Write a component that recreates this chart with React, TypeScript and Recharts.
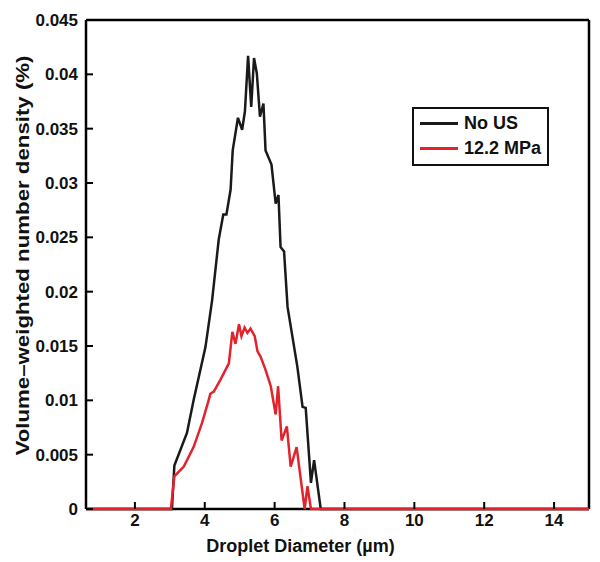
import { LineChart, Line, XAxis, YAxis, CartesianGrid } from "recharts";

const noUsX = [0.6, 3.06, 3.13, 3.49, 3.68, 4.02, 4.21, 4.4, 4.53, 4.62, 4.74, 4.8, 4.95, 5.07, 5.15, 5.24, 5.33, 5.41, 5.49, 5.58, 5.68, 5.74, 5.91, 6.03, 6.11, 6.17, 6.27, 6.37, 6.65, 6.8, 6.89, 7.04, 7.13, 7.32, 15];
const noUsY = [0, 0, 0.004, 0.007, 0.01, 0.0149, 0.0192, 0.0248, 0.0271, 0.0271, 0.0294, 0.033, 0.036, 0.0349, 0.0366, 0.0417, 0.037, 0.0415, 0.0401, 0.0361, 0.0373, 0.033, 0.0317, 0.0281, 0.0289, 0.0241, 0.0237, 0.0186, 0.0131, 0.0094, 0.0093, 0.0024, 0.0045, 0, 0];

const mpaX = [0.6, 3.03, 3.13, 3.4, 3.68, 3.92, 4.11, 4.16, 4.26, 4.45, 4.69, 4.79, 4.88, 4.98, 5.05, 5.14, 5.22, 5.31, 5.43, 5.51, 5.6, 5.74, 5.89, 6.03, 6.1, 6.2, 6.35, 6.46, 6.63, 6.75, 6.86, 6.94, 7.04, 15];
const mpaY = [0, 0, 0.003, 0.0039, 0.0057, 0.0079, 0.01, 0.0106, 0.0108, 0.0119, 0.0134, 0.0163, 0.0152, 0.017, 0.0159, 0.0167, 0.0162, 0.0166, 0.0159, 0.0145, 0.014, 0.0128, 0.0113, 0.0087, 0.0113, 0.0063, 0.0076, 0.0039, 0.0057, 0.0027, 0, 0.0021, 0, 0];

const xDomain = [0.6, 15];
const yDomain = [0, 0.045];
const xTicks = [2, 4, 6, 8, 10, 12, 14];
const yTicks = [0, 0.005, 0.01, 0.015, 0.02, 0.025, 0.03, 0.035, 0.04, 0.045];
const yTickLabels = ["0", "0.005", "0.01", "0.015", "0.02", "0.025", "0.03", "0.035", "0.04", "0.045"];

const seriesNames = ["No US", "12.2 MPa"];
const seriesColors = ["#1a1a1a", "#e3232c"];

const noUsData = noUsX.map((x, i) => ({ x, y: noUsY[i] }));
const mpaData = mpaX.map((x, i) => ({ x, y: mpaY[i] }));

const font = "'Liberation Sans', Arial, sans-serif";
const TICK_LEN = 7;

const BottomTick = (p: any) => (
  <g>
    <line x1={p.x} y1={p.y} x2={p.x} y2={p.y - TICK_LEN} stroke="#000" strokeWidth={2} />
    <text x={p.x} y={p.y + 17} textAnchor="middle" fontFamily={font} fontWeight="bold" fontSize={17} fill="#111">
      {p.payload.value}
    </text>
  </g>
);

const TopTick = (p: any) => (
  <line x1={p.x} y1={p.y} x2={p.x} y2={p.y + TICK_LEN} stroke="#000" strokeWidth={2} />
);

const LeftTick = (p: any) => (
  <g>
    <line x1={p.x} y1={p.y} x2={p.x + TICK_LEN} y2={p.y} stroke="#000" strokeWidth={2} />
    <text x={p.x - 8} y={p.y + 6} textAnchor="end" fontFamily={font} fontWeight="bold" fontSize={17} fill="#111">
      {yTickLabels[p.index]}
    </text>
  </g>
);

const RightTick = (p: any) => (
  <line x1={p.x} y1={p.y} x2={p.x - TICK_LEN} y2={p.y} stroke="#000" strokeWidth={2} />
);

// y label is stretched along its length in the original figure
const YLabel = (p: any) => {
  const vb = p.viewBox || {};
  const cx = 22;
  const cy = vb.y + vb.height / 2 - 9;
  return (
    <text
      x={cx}
      y={cy}
      transform={`rotate(-90, ${cx}, ${cy})`}
      textAnchor="middle"
      dominantBaseline="central"
      textLength={400}
      lengthAdjust="spacingAndGlyphs"
      fontFamily={font}
      fontWeight="bold"
      fontSize={19}
      fill="#111"
    >
      Volume–weighted number density (%)
    </text>
  );
};

const LegendBox = () => (
  <div style={{ position: "absolute", left: 412, top: 107, border: "2px solid #111", background: "#fff", padding: "2px 6px 3px 6px", fontFamily: font, fontWeight: "bold", fontSize: 18, color: "#111" }}>
    {seriesNames.map((n, i) => (
      <div key={n} style={{ display: "flex", alignItems: "center", height: 25 }}>
        <span style={{ display: "inline-block", width: 38, height: 3, background: seriesColors[i], marginRight: 6 }} />
        {n}
      </div>
    ))}
  </div>
);

export default function App() {
  return (
    <div style={{ position: "fixed", left: 0, top: 0, width: 600, height: 562, background: "#fff" }}>
      <LineChart width={600} height={562} margin={{ top: 19, right: 10, bottom: 23, left: 26 }}>
        {/* frame drawn as grid so the series sit on top of it */}
        <CartesianGrid
          xAxisId="b"
          yAxisId="l"
          horizontalValues={yDomain}
          verticalValues={xDomain}
          stroke="#000"
          strokeWidth={2.5}
          strokeDasharray=""
          fill="none"
        />
        <XAxis
          xAxisId="b"
          dataKey="x"
          type="number"
          domain={xDomain}
          ticks={xTicks}
          tickSize={0}
          tickMargin={0}
          height={30}
          tick={BottomTick}
          axisLine={false}
          label={{ value: "Droplet Diameter (µm)", position: "bottom", offset: 0, dx: -37, fontFamily: font, fontWeight: "bold", fontSize: 18, fill: "#111" }}
        />
        <XAxis
          xAxisId="t"
          orientation="top"
          dataKey="x"
          type="number"
          domain={xDomain}
          ticks={xTicks}
          tickSize={0}
          tickMargin={0}
          height={1}
          tick={TopTick}
          axisLine={false}
        />
        <YAxis
          yAxisId="l"
          type="number"
          domain={yDomain}
          ticks={yTicks}
          tickSize={0}
          tickMargin={0}
          width={60}
          tick={LeftTick}
          axisLine={false}
          label={{ content: YLabel }}
        />
        <YAxis
          yAxisId="r"
          orientation="right"
          type="number"
          domain={yDomain}
          ticks={yTicks}
          tickSize={0}
          tickMargin={0}
          width={1}
          tick={RightTick}
          axisLine={false}
        />
        <Line xAxisId="b" yAxisId="l" data={noUsData} dataKey="y" name={seriesNames[0]} stroke={seriesColors[0]} strokeWidth={2.5} dot={false} type="linear" isAnimationActive={false} />
        <Line xAxisId="b" yAxisId="l" data={mpaData} dataKey="y" name={seriesNames[1]} stroke={seriesColors[1]} strokeWidth={2.5} dot={false} type="linear" isAnimationActive={false} />
      </LineChart>
      <LegendBox />
    </div>
  );
}
